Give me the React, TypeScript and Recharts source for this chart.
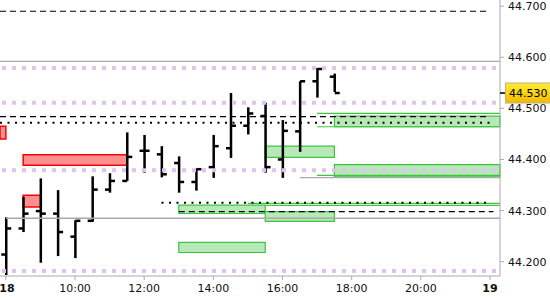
import { ComposedChart, Bar, XAxis, YAxis, ReferenceLine, ReferenceArea } from 'recharts';

// 30-minute OHLC bars, session hours of day 18
const times = [8, 8.5, 9, 9.5, 10, 10.5, 11, 11.5, 12, 12.5, 13, 13.5, 14, 14.5, 15, 15.5, 16, 16.5, 17, 17.5];
const opens = [44.214, 44.265, 44.299, 44.294, 44.249, 44.280, 44.341, 44.358, 44.417, 44.410, 44.393, 44.356, 44.385, 44.422, 44.466, 44.485, 44.400, 44.455, 44.553, 44.562];
const highs = [44.287, 44.327, 44.363, 44.340, 44.281, 44.367, 44.373, 44.453, 44.448, 44.426, 44.406, 44.382, 44.448, 44.530, 44.502, 44.511, 44.477, 44.553, 44.579, 44.568];
const lows = [44.174, 44.258, 44.198, 44.211, 44.207, 44.278, 44.335, 44.358, 44.374, 44.365, 44.335, 44.339, 44.364, 44.403, 44.449, 44.374, 44.364, 44.415, 44.521, 44.532];
const closes = [44.265, 44.294, 44.294, 44.258, 44.280, 44.341, 44.358, 44.405, 44.417, 44.371, 44.356, 44.381, 44.426, 44.466, 44.490, 44.385, 44.456, 44.553, 44.577, 44.530];

const lastPrice = 44.53;

const xTicks = [8, 10, 12, 14, 16, 18, 20, 22];
const dayLabels: Record<number, string> = { 8: '18', 22: '19' };
const priceTicks = [44.2, 44.3, 44.4, 44.5, 44.6, 44.7];

const X_MIN = 7.83;
const X_MAX = 22.29;
const Y_MIN = 44.172;
const Y_MAX = 44.712;

// full width levels
const purpleLevels = [44.579, 44.511, 44.379, 44.182];
// [from, to, price]
const grayLines = [[X_MIN, X_MAX, 44.592], [8, X_MAX, 44.285], [16.5, X_MAX, 44.3644]];
const dashedLines = [[X_MIN, 22, 44.69], [X_MIN, 22, 44.484], [13, 22.1, 44.298]];
const dottedLines = [[X_MIN, 22, 44.472], [12.5, 22, 44.3155]];
const greenLines = [[17, X_MAX, 44.49], [17, X_MAX, 44.464], [17, X_MAX, 44.369], [15, X_MAX, 44.314], [15.5, X_MAX, 44.31]];
// [from, to, low, high]
const greenZones = [
  [15.5, 17.5, 44.404, 44.426],
  [17.5, X_MAX, 44.464, 44.4847],
  [17.5, X_MAX, 44.366, 44.39],
  [13, 15.5, 44.2943, 44.3106],
  [15.5, 17.5, 44.2787, 44.298],
  [13, 15.5, 44.218, 44.2376],
];
const redZones = [
  [X_MIN, 8, 44.44, 44.465],
  [8.5, 11.5, 44.3888, 44.4094],
  [8.5, 9, 44.3072, 44.3301],
];

const bars = times.map((t, i) => ({ t, open: opens[i], high: highs[i], low: lows[i], close: closes[i] }));

const FONT = 'DejaVu Sans';

const OhlcShape = (props: any) => {
  const { x, y, width, height, payload } = props;
  if (!payload) return null;
  const { open, high, low, close } = payload;
  const top = Math.min(y, y + height);
  const h = Math.abs(height);
  const py = (v: number) => top + (h * (high - v)) / (high - low || 1);
  const cx = x + width / 2;
  return (
    <g fill="#000">
      <rect x={cx - 1.25} y={top} width={2.5} height={h} />
      <rect x={cx - 5} y={py(open) - 1.25} width={5} height={2.5} />
      <rect x={cx} y={py(close) - 1.25} width={5} height={2.5} />
    </g>
  );
};

const XTick = (props: any) => {
  const { x, y, payload } = props;
  const day = dayLabels[payload.value];
  return (
    <text x={x} y={y} dy={8} dx={day && payload.value === xTicks[0] ? 1 : 0} textAnchor="middle" fontFamily={FONT}
      fontSize={11} fontWeight={day ? 'bold' : 'normal'} fill="#111">
      {day ?? `${payload.value}:00`}
    </text>
  );
};

const YTick = (props: any) => {
  const { x, y, payload } = props;
  if (payload.value === lastPrice) {
    return (
      <g>
        <defs>
          <linearGradient id="lastGrad" x1="0" y1="0" x2="0" y2="1">
            <stop offset="0%" stopColor="#ffee33" />
            <stop offset="100%" stopColor="#f2b800" />
          </linearGradient>
        </defs>
        <line x1={x - 8} x2={x - 2} y1={y} y2={y} stroke="#000" strokeWidth={1.5} />
        <rect x={x - 2.5} y={y - 10} width={48} height={20} fill="url(#lastGrad)" stroke="#b8b090" />
        <text x={x + 1} y={y} dy={4} fontFamily={FONT} fontSize={11} fill="#000">
          {payload.value.toFixed(3)}
        </text>
      </g>
    );
  }
  return (
    <text x={x} y={y} dy={4} fontFamily={FONT} fontSize={11} fill="#111">
      {payload.value.toFixed(3)}
    </text>
  );
};

export default function App() {
  return (
    <div style={{ position: 'absolute', left: 0, top: 0, width: 550, height: 300, background: '#fff', fontFamily: FONT }}>
      <ComposedChart width={550} height={300} data={bars} margin={{ top: 0, right: 0, left: 0, bottom: 0 }}>
        <XAxis
          dataKey="t"
          type="number"
          domain={[X_MIN, X_MAX]}
          allowDataOverflow
          ticks={xTicks}
          interval={0}
          height={24}
          tickSize={4}
          tickMargin={4}
          stroke="#aaa"
          tick={<XTick />}
        />
        <YAxis
          orientation="right"
          type="number"
          domain={[Y_MIN, Y_MAX]}
          allowDataOverflow
          ticks={[...priceTicks, lastPrice]}
          interval={0}
          width={50}
          tickSize={4}
          tickMargin={4}
          stroke="#aaa"
          tick={<YTick />}
        />

        {purpleLevels.map((p) => (
          <ReferenceLine key={`pu${p}`} y={p} stroke="#dfc2f0" strokeWidth={4} strokeDasharray="4 6" strokeDashoffset={6} />
        ))}

        {grayLines.map(([a, b, p]) => (
          <ReferenceLine key={`g${p}`} segment={[{ x: a, y: p }, { x: b, y: p }]} stroke="#aaa" strokeWidth={1.3} ifOverflow="visible" />
        ))}

        {greenZones.map(([a, b, lo, hi]) => (
          <ReferenceArea key={`gz${a}${lo}`} x1={a} x2={b} y1={lo} y2={hi} fill="#7cd67c" fillOpacity={0.55}
            stroke="#3fc43f" strokeWidth={1.2} strokeOpacity={1} ifOverflow="visible" />
        ))}
        {redZones.map(([a, b, lo, hi]) => (
          <ReferenceArea key={`rz${a}${lo}`} x1={a} x2={b} y1={lo} y2={hi} fill="#ff9090" fillOpacity={1}
            stroke="#ff0000" strokeWidth={1.5} strokeOpacity={1} ifOverflow="visible" />
        ))}
        {greenLines.map(([a, b, p]) => (
          <ReferenceLine key={`gr${p}`} segment={[{ x: a, y: p }, { x: b, y: p }]} stroke="#3fc43f" strokeWidth={1.2} ifOverflow="visible" />
        ))}

        {dashedLines.map(([a, b, p]) => (
          <ReferenceLine key={`d${p}`} segment={[{ x: a, y: p }, { x: b, y: p }]} stroke="#000" strokeWidth={1.2} strokeDasharray="6 4" ifOverflow="visible" />
        ))}
        {dottedLines.map(([a, b, p]) => (
          <ReferenceLine key={`o${p}`} segment={[{ x: a, y: p }, { x: b, y: p }]} stroke="#000" strokeWidth={2} strokeDasharray="2 5.5" ifOverflow="visible" />
        ))}

        <Bar dataKey={(d: any) => [d.low, d.high]} barSize={10} shape={<OhlcShape />} isAnimationActive={false} />
      </ComposedChart>
    </div>
  );
}
